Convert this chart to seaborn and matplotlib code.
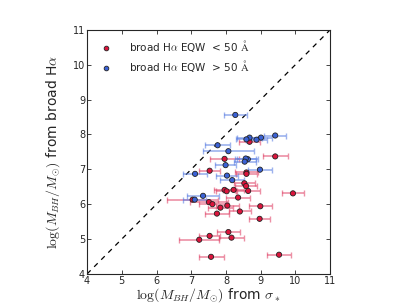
import numpy as np
import pandas as pd
import matplotlib
matplotlib.use("Agg")
import matplotlib.pyplot as plt
import seaborn as sns

# Low EQW (< 50 A) sample: sigma_* mass, broad Halpha mass, x error
red_x = [8.68, 7.96, 9.42, 7.53, 8.59, 8.59, 8.53, 8.58, 7.96, 8.02, 8.22, 8.64, 9.93, 8.35,
         7.04, 7.51, 7.61, 8.04, 8.99, 7.84, 8.40, 7.74, 8.97, 8.07, 7.53, 8.16, 7.23, 9.53, 7.57]
red_y = [7.79, 7.30, 7.37, 6.96, 6.91, 6.87, 6.60, 6.52, 6.41, 6.37, 6.41, 6.38, 6.31, 6.19,
         6.13, 6.06, 6.00, 5.96, 5.94, 5.90, 5.79, 5.73, 5.58, 5.20, 5.09, 5.04, 4.98, 4.55, 4.49]
red_xerr = [0.30, 0.43, 0.36, 0.31, 0.32, 0.30, 0.30, 0.31, 0.29, 0.30, 0.31, 0.34, 0.31, 0.34,
            0.74, 0.55, 0.38, 0.34, 0.34, 0.36, 0.32, 0.34, 0.31, 0.33, 0.31, 0.35, 0.58, 0.34, 0.36]

# High EQW (> 50 A) sample
blue_x = [8.27, 9.42, 9.01, 8.88, 8.68, 8.59, 7.76, 8.07, 8.63, 8.57, 8.54, 7.99, 8.98, 7.11,
          8.03, 8.18, 7.34, 7.10]
blue_y = [8.56, 7.97, 7.91, 7.85, 7.91, 7.86, 7.69, 7.52, 7.29, 7.31, 7.22, 7.12, 6.99, 6.87,
          6.82, 6.69, 6.24, 6.13]
blue_xerr = [0.33, 0.31, 0.32, 0.30, 0.35, 0.30, 0.36, 0.73, 0.30, 0.30, 0.32, 0.31, 0.35, 0.35,
             0.33, 0.34, 0.45, 0.33]

labels = [r"broad H$\alpha$ EQW  < 50 $\mathrm{\AA}$", r"broad H$\alpha$ EQW  > 50 $\mathrm{\AA}$"]
ticks = [4, 5, 6, 7, 8, 9, 10, 11]

sns.set_style("ticks")
plt.rcParams["font.family"] = ["DejaVu Sans"]
plt.rcParams["mathtext.fontset"] = "cm"
plt.rcParams["xtick.direction"] = "in"
plt.rcParams["ytick.direction"] = "in"

df = pd.DataFrame({
    "x": red_x + blue_x,
    "y": red_y + blue_y,
    "xerr": red_xerr + blue_xerr,
    "group": [labels[0]] * len(red_x) + [labels[1]] * len(blue_x),
})

fig = plt.figure(figsize=(4.07, 3.05), dpi=100)
ax = fig.add_axes([0.214, 0.102, 0.597, 0.800])

ax.plot([4, 11], [4, 11], ls="--", color="black", lw=0.9, dashes=(4, 4), zorder=1)

palette = {labels[0]: "#dc143c", labels[1]: "#3b62d6"}
ecolors = {labels[0]: "#e0476a", labels[1]: "#5d80e3"}
for g, sub in df.groupby("group"):
    ax.errorbar(sub["x"], sub["y"], xerr=sub["xerr"], fmt="none", ecolor=ecolors[g],
                elinewidth=1.2, capsize=2.5, capthick=1.0, alpha=0.6, zorder=2)

sns.scatterplot(data=df, x="x", y="y", hue="group", palette=palette, hue_order=labels,
                s=14, edgecolor="#222222", linewidth=0.6, ax=ax, zorder=3, legend=True)

ax.set_xlim(4, 11)
ax.set_ylim(4, 11)
ax.set_xticks(ticks)
ax.set_yticks(ticks)
ax.tick_params(axis="both", labelsize=7, top=True, right=True, length=3, width=0.6, pad=1.5)
for s in ax.spines.values():
    s.set_linewidth(0.8)
ax.set_xlabel(r"$\log(M_{BH}/M_{\odot})$ from $\sigma_*$", fontsize=10, labelpad=0)
ax.set_ylabel(r"$\log(M_{BH}/M_{\odot})$ from broad H$\alpha$", fontsize=10, labelpad=8)

leg = ax.legend(loc="upper left", frameon=False, fontsize=7.5, handletextpad=1.2,
                borderaxespad=0.4, labelspacing=0.4, markerscale=0.9)

fig.savefig("out.png", dpi=100)
